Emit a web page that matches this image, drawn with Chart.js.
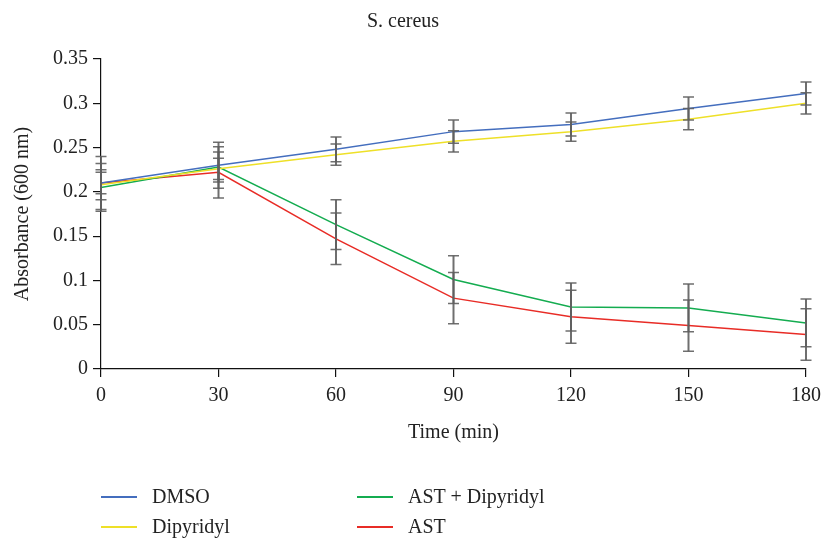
<!DOCTYPE html>
<html>
<head>
<meta charset="utf-8">
<title>S. cereus</title>
<script src="https://cdn.jsdelivr.net/npm/chart.js@4/dist/chart.umd.min.js"></script>
<style>
  body { margin: 0; background: #fff; }
  #wrap { position: relative; width: 828px; height: 539px; overflow: hidden; }
  #chart { position: absolute; left: 0; top: 0; }
  .key { position: absolute; height: 30px; font: 20px "Liberation Serif", "Times New Roman", serif; color: #222; white-space: nowrap; }
  .key span { position: absolute; left: 0; top: 14px; width: 36px; height: 2px; }
  .key b { position: absolute; left: 51px; top: -1px; line-height: 30px; font-weight: normal; }
</style>
</head>
<body>
<div id="wrap">
  <canvas id="chart" width="828" height="539"></canvas>
</div>
<script>
var FONT = '"Liberation Serif", "Times New Roman", serif';

var timeLabels = ['0', '30', '60', '90', '120', '150', '180'];
var yTickLabels = ['0', '0.05', '0.1', '0.15', '0.2', '0.25', '0.3', '0.35'];

var dmso = [0.210, 0.230, 0.248, 0.268, 0.276, 0.294, 0.311];
var dmsoErr = [0.030, 0.026, 0.014, 0.013, 0.013, 0.013, 0.013];

var dipyridyl = [0.208, 0.226, 0.242, 0.257, 0.268, 0.282, 0.300];
var dipyridylErr = [0.017, 0.012, 0.012, 0.012, 0.011, 0.012, 0.012];

var astDipyridyl = [0.205, 0.228, 0.163, 0.101, 0.070, 0.069, 0.052];
var astDipyridylErr = [0.027, 0.017, 0.028, 0.027, 0.027, 0.027, 0.027];

var ast = [0.210, 0.222, 0.147, 0.080, 0.059, 0.049, 0.039];
var astErr = [0.012, 0.029, 0.029, 0.029, 0.030, 0.029, 0.029];

function series(label, color, data, errors) {
	return {
		label: label,
		data: data,
		errors: errors,
		borderColor: color,
		borderWidth: 1.5,
		pointRadius: 0,
		fill: false,
		tension: 0
	};
}

var datasets = [
	series('DMSO', 'rgb(68, 110, 190)', dmso, dmsoErr),
	series('Dipyridyl', 'rgb(238, 224, 40)', dipyridyl, dipyridylErr),
	series('AST + Dipyridyl', 'rgb(20, 172, 80)', astDipyridyl, astDipyridylErr),
	series('AST', 'rgb(232, 44, 38)', ast, astErr)
];

// mean +/- sd whiskers, drawn over the lines
var errorBars = {
	id: 'errorBars',
	afterDatasetsDraw: function (chart) {
		var ctx = chart.ctx;
		var x = chart.scales.x;
		var y = chart.scales.y;
		ctx.save();
		ctx.strokeStyle = 'rgba(95, 95, 95, 0.9)';
		chart.data.datasets.forEach(function (ds) {
			ds.errors.forEach(function (e, i) {
				var px = x.getPixelForValue(i);
				var top = y.getPixelForValue(ds.data[i] + e);
				var bot = y.getPixelForValue(ds.data[i] - e);
				ctx.lineWidth = 2;
				ctx.beginPath();
				ctx.moveTo(px, top);
				ctx.lineTo(px, bot);
				ctx.stroke();
				ctx.lineWidth = 1.5;
				ctx.beginPath();
				ctx.moveTo(px - 5.5, top);
				ctx.lineTo(px + 5.5, top);
				ctx.moveTo(px - 5.5, bot);
				ctx.lineTo(px + 5.5, bot);
				ctx.stroke();
			});
		});
		ctx.restore();
	}
};

var chart = new Chart(document.getElementById('chart').getContext('2d'), {
	type: 'line',
	data: {
		labels: timeLabels,
		datasets: datasets
	},
	plugins: [errorBars],
	options: {
		responsive: false,
		animation: false,
		layout: { padding: { left: 0, right: 22, top: 0, bottom: 0 } },
		plugins: {
			legend: { display: false },
			tooltip: { enabled: false },
			title: {
				display: true,
				text: 'S. cereus',
				color: '#222',
				font: { family: FONT, size: 20, weight: 'normal' },
				padding: { top: 10, bottom: 25 }
			}
		},
		scales: {
			x: {
				type: 'category',
				offset: false,
				border: { display: true, color: '#111', width: 1.2 },
				grid: { drawOnChartArea: false, drawTicks: true, tickLength: 8, color: '#111', lineWidth: 1.2 },
				ticks: { color: '#222', font: { family: FONT, size: 20 }, padding: 7, maxRotation: 0 },
				title: {
					display: true,
					text: 'Time (min)',
					color: '#222',
					font: { family: FONT, size: 20 },
					padding: { top: 4, bottom: 94 }
				},
				afterFit: function (scale) { scale.height = 170; }
			},
			y: {
				min: 0,
				max: 0.35,
				border: { display: true, color: '#111', width: 1.2 },
				grid: { drawOnChartArea: false, drawTicks: true, tickLength: 8, color: '#111', lineWidth: 1.2 },
				ticks: {
					stepSize: 0.05,
					color: '#222',
					font: { family: FONT, size: 20 },
					padding: 5,
					callback: function (value, index) { return yTickLabels[index]; }
				},
				title: {
					display: true,
					text: 'Absorbance (600 nm)',
					color: '#222',
					font: { family: FONT, size: 20 },
					padding: { top: 11, bottom: 4 }
				},
				afterFit: function (scale) { scale.width = 101; }
			}
		}
	}
});

// two-column key under the plot
var keySlots = [[101, 482], [101, 512], [357, 482], [357, 512]];
var wrap = document.getElementById('wrap');
[0, 1, 2, 3].forEach(function (k) {
	var ds = datasets[k];
	var item = document.createElement('div');
	item.className = 'key';
	item.style.left = keySlots[k][0] + 'px';
	item.style.top = keySlots[k][1] + 'px';
	var swatch = document.createElement('span');
	swatch.style.background = ds.borderColor;
	var text = document.createElement('b');
	text.textContent = ds.label;
	item.appendChild(swatch);
	item.appendChild(text);
	wrap.appendChild(item);
});
</script>
</body>
</html>
